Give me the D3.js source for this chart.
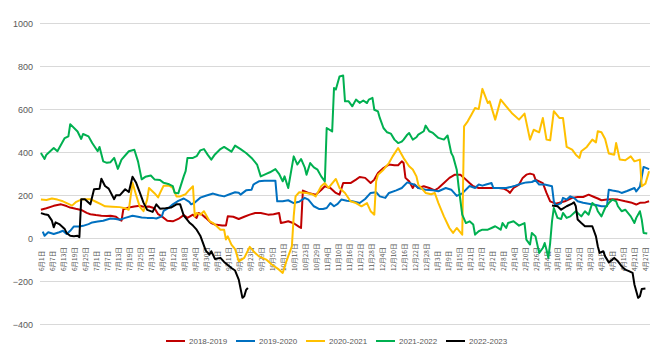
<!DOCTYPE html>
<html><head><meta charset="utf-8">
<script src="https://cdn.jsdelivr.net/npm/d3@7"></script>
<style>body{margin:0;background:#fff}svg{display:block}</style>
</head><body>
<svg id="c" width="667" height="353"></svg>
<script>
// ---- DATA ----
// categories: every day from 6月1日 to 4月29日 (index = days since 6月1日)
const categories = (function(){const a=[];const base=new Date(2022,5,1);for(let i=0;i<333;i++){const d=new Date(base.getTime()+i*86400000);a.push((d.getMonth()+1)+"月"+d.getDate()+"日");}return a;})();
const tickEvery = 6;
const yTicks = [-400,-200,0,200,400,600,800,1000];
const seriesNames = ["2018-2019","2019-2020","2020-2021","2021-2022","2022-2023"];
const seriesColors = ["#C00000","#0070C0","#FFC000","#00B050","#000000"];

// [day index, value]
const s2018 = [[0,133],[3,140],[7,151],[11,158],[14,150],[16,143],[19,137],[22,132],[25,118],[27,112],[30,108],[33,105],[36,104],[38,105],[41,100],[43,86],[44,82],[45,135],[48,143],[51,148],[54,151],[56,147],[59,148],[62,140],[64,112],[66,102],[69,82],[72,79],[75,90],[78,108],[80,95],[83,110],[85,95],[86,118],[88,110],[90,95],[93,71],[95,64],[97,62],[99,60],[101,59],[102,102],[105,100],[108,90],[111,100],[114,110],[117,118],[120,118],[124,110],[127,112],[130,118],[131,71],[133,75],[135,79],[138,70],[141,53],[142,48],[143,222],[146,211],[150,203],[153,225],[155,242],[158,234],[161,211],[163,203],[165,257],[169,257],[172,273],[174,285],[177,281],[180,257],[182,273],[184,304],[187,327],[190,343],[193,340],[195,340],[197,358],[198,350],[199,281],[201,265],[203,234],[204,250],[206,234],[209,242],[212,234],[215,223],[217,234],[220,257],[223,281],[226,296],[229,296],[231,281],[234,257],[236,242],[239,234],[243,234],[247,234],[250,234],[253,230],[255,220],[256,211],[258,234],[261,250],[263,281],[265,296],[267,301],[269,296],[270,273],[272,265],[274,257],[276,211],[278,172],[281,161],[283,165],[286,172],[290,188],[293,192],[296,192],[299,203],[302,192],[304,185],[306,177],[309,180],[312,182],[315,180],[319,172],[322,167],[325,157],[327,165],[330,167],[332,172]];
const s2019 = [[1,31],[2,12],[4,28],[7,20],[10,28],[12,35],[14,20],[16,35],[18,55],[21,55],[23,58],[26,66],[28,74],[31,78],[34,82],[38,92],[41,90],[43,86],[46,95],[50,105],[53,100],[55,97],[58,95],[61,95],[63,92],[66,102],[67,128],[70,143],[72,158],[75,174],[78,185],[81,169],[82,158],[84,166],[87,189],[90,198],[94,208],[97,200],[100,195],[103,205],[106,214],[108,212],[109,203],[112,223],[115,226],[116,250],[119,265],[122,268],[125,268],[128,268],[129,172],[132,172],[135,177],[138,164],[141,170],[144,188],[146,180],[149,149],[152,136],[154,136],[156,141],[158,164],[160,149],[162,160],[164,180],[167,175],[170,172],[174,164],[177,183],[180,211],[183,214],[185,195],[188,188],[190,211],[194,223],[197,234],[200,260],[204,249],[206,234],[210,226],[214,223],[217,219],[221,234],[224,226],[227,197],[230,209],[234,243],[237,234],[239,250],[241,245],[243,250],[246,257],[247,234],[251,234],[254,234],[257,240],[259,245],[262,254],[265,260],[268,262],[270,270],[272,250],[275,250],[279,242],[280,172],[281,152],[284,164],[285,188],[287,180],[289,195],[291,188],[293,172],[296,165],[299,161],[303,155],[306,149],[309,149],[310,226],[312,222],[315,218],[317,211],[320,220],[324,234],[325,218],[327,240],[329,332],[332,322]];
const s2020 = [[0,180],[3,178],[6,185],[9,180],[12,172],[15,160],[17,152],[19,168],[22,180],[25,182],[27,182],[30,170],[33,158],[35,149],[39,147],[43,145],[46,140],[48,133],[50,258],[52,200],[54,146],[56,126],[58,180],[59,234],[62,210],[64,190],[65,210],[67,245],[70,245],[72,235],[74,195],[76,195],[79,205],[81,225],[83,242],[84,102],[85,118],[87,110],[89,126],[92,80],[94,71],[96,56],[98,40],[100,40],[101,-6],[102,9],[104,-29],[106,-50],[108,-107],[111,-91],[114,-40],[116,-60],[119,-84],[123,-99],[126,-122],[130,-146],[132,-161],[134,-107],[137,-37],[138,102],[139,195],[141,214],[145,211],[148,205],[150,195],[153,242],[155,257],[157,234],[161,276],[163,234],[166,211],[169,172],[172,164],[175,149],[178,164],[180,126],[182,110],[183,265],[184,296],[187,319],[190,350],[192,381],[195,420],[196,404],[198,373],[201,335],[203,320],[205,288],[206,250],[210,211],[213,205],[215,211],[217,164],[220,102],[223,48],[225,25],[227,48],[230,17],[231,521],[233,544],[235,575],[237,606],[239,601],[241,695],[244,629],[245,637],[248,552],[251,645],[254,614],[257,583],[261,552],[264,580],[267,459],[269,505],[272,493],[274,560],[276,459],[278,456],[280,591],[283,560],[285,560],[287,425],[290,412],[292,389],[294,374],[295,405],[298,425],[301,459],[303,446],[304,498],[306,493],[308,462],[310,394],[313,389],[314,443],[316,366],[319,363],[322,381],[324,358],[327,366],[328,242],[330,254],[332,312]];
const s2021 = [[0,397],[2,369],[3,389],[7,420],[9,405],[13,466],[15,474],[16,531],[20,497],[22,462],[23,485],[26,474],[28,443],[31,405],[32,425],[34,358],[36,351],[38,354],[40,374],[42,323],[44,366],[48,405],[51,412],[53,358],[55,274],[57,286],[60,292],[62,274],[65,271],[67,258],[70,251],[72,243],[73,212],[75,209],[78,289],[79,312],[80,374],[83,374],[85,382],[87,409],[89,415],[91,389],[93,366],[95,390],[98,415],[100,425],[104,403],[106,431],[109,415],[112,397],[115,374],[118,343],[120,288],[123,300],[125,307],[128,322],[130,300],[132,265],[133,288],[135,234],[138,381],[140,343],[142,369],[144,330],[145,296],[147,350],[149,330],[151,319],[153,288],[155,265],[156,513],[159,497],[160,699],[161,692],[163,753],[165,757],[166,637],[168,637],[170,614],[172,645],[174,630],[176,641],[178,629],[179,645],[181,653],[182,598],[184,590],[185,560],[187,513],[189,493],[191,487],[193,459],[195,443],[197,450],[198,459],[200,482],[201,490],[203,459],[205,470],[206,482],[209,498],[210,524],[212,498],[214,490],[217,467],[220,459],[222,478],[224,397],[225,381],[227,319],[228,242],[230,110],[232,71],[234,79],[236,64],[237,17],[239,33],[241,40],[244,40],[246,48],[248,56],[251,40],[252,71],[254,48],[255,71],[258,79],[261,59],[264,71],[265,-6],[267,-29],[268,25],[270,9],[272,-68],[274,-45],[275,-22],[276,-53],[277,-91],[278,-22],[279,79],[280,141],[282,95],[284,90],[285,118],[287,95],[289,102],[292,126],[295,102],[297,126],[299,110],[301,164],[303,149],[304,126],[306,102],[308,141],[310,164],[312,180],[314,172],[315,149],[317,126],[319,133],[322,102],[324,71],[325,95],[327,126],[328,87],[329,25],[331,22]];
const s2022 = [[0,117],[2,112],[4,108],[6,82],[7,51],[8,74],[10,66],[13,43],[14,25],[16,12],[18,10],[20,12],[21,5],[22,182],[24,182],[27,158],[29,228],[32,231],[33,277],[35,243],[37,231],[40,182],[41,200],[43,200],[46,228],[48,215],[50,286],[52,258],[54,212],[56,166],[58,132],[61,123],[63,158],[65,138],[68,140],[71,143],[74,158],[76,158],[78,105],[81,74],[83,59],[85,40],[87,12],[90,-57],[92,-76],[93,-60],[95,-96],[98,-91],[100,-110],[104,-138],[106,-150],[108,-192],[110,-277],[111,-270],[112,-240],[113,-231],[114,null],[279,153],[282,149],[284,133],[287,149],[290,161],[291,167],[292,149],[293,87],[295,71],[297,56],[301,56],[303,9],[304,-37],[305,-68],[307,-60],[308,-84],[310,-112],[312,-99],[313,-91],[315,-107],[317,-130],[319,-146],[321,-153],[323,-161],[324,-215],[326,-277],[327,-270],[328,-236],[330,-234]];
const seriesData = [s2018,s2019,s2020,s2021,s2022];

// ---- CHART ----
const svg = d3.select("#c");
const plot = {left:40, right:650, top:23.3, bottom:324.3};
const x = d3.scalePoint().domain(categories).range([plot.left, plot.right]).padding(0.5);
const y = d3.scaleLinear().domain([-400,1000]).range([plot.bottom, plot.top]);

// gridlines
svg.append("g").selectAll("line").data(yTicks).join("line")
  .attr("x1",plot.left).attr("x2",plot.right)
  .attr("y1",d=>Math.round(y(d))+0.5).attr("y2",d=>Math.round(y(d))+0.5)
  .attr("stroke","#D9D9D9").attr("stroke-width",1);

// y axis labels
const yAxis = d3.axisLeft(y).tickValues(yTicks).tickFormat(d3.format("d")).tickSize(0).tickPadding(0);
const gy = svg.append("g").attr("transform","translate(33,0)").call(yAxis);
gy.select(".domain").remove();
gy.selectAll("text").attr("fill","#595959").style("font-family","'Liberation Sans',Arial,sans-serif").style("font-size","9px");

// x axis labels (category axis at 0)
const xTickVals = categories.filter((c,i)=>i%tickEvery===0 && i<=330);
const xAxis = d3.axisBottom(x).tickValues(xTickVals).tickSize(0).tickPadding(0);
const gx = svg.append("g").attr("transform","translate(0,"+y(0)+")").call(xAxis);
gx.select(".domain").remove();
gx.selectAll("text")
  .attr("transform","translate(2.5,"+(271-y(0))+") rotate(-90)")
  .attr("x",0).attr("y",0).attr("dy",0)
  .style("text-anchor","start")
  .attr("fill","#595959")
  .style("font-family","'Noto Sans CJK SC',sans-serif").style("font-size","6.5px");

// lines
const line = d3.line()
  .defined(d=>d[1]!=null)
  .x(d=>x(categories[d[0]]))
  .y(d=>y(d[1]));
svg.append("g").selectAll("path").data(seriesData).join("path")
  .attr("d",line).attr("fill","none")
  .attr("stroke",(d,i)=>seriesColors[i])
  .attr("stroke-width",2).attr("stroke-linejoin","round");

// legend
const legX = [166,236,306,376,446];
const lg = svg.append("g").selectAll("g").data(seriesNames).join("g")
  .attr("transform",(d,i)=>"translate("+legX[i]+",341)");
lg.append("line").attr("x1",0).attr("x2",19).attr("y1",0).attr("y2",0)
  .attr("stroke",(d,i)=>seriesColors[i]).attr("stroke-width",2);
lg.append("text").attr("x",23).attr("y",3).text(d=>d)
  .attr("fill","#595959").style("font-family","'Liberation Sans',Arial,sans-serif").style("font-size","8px");
</script>
</body></html>
